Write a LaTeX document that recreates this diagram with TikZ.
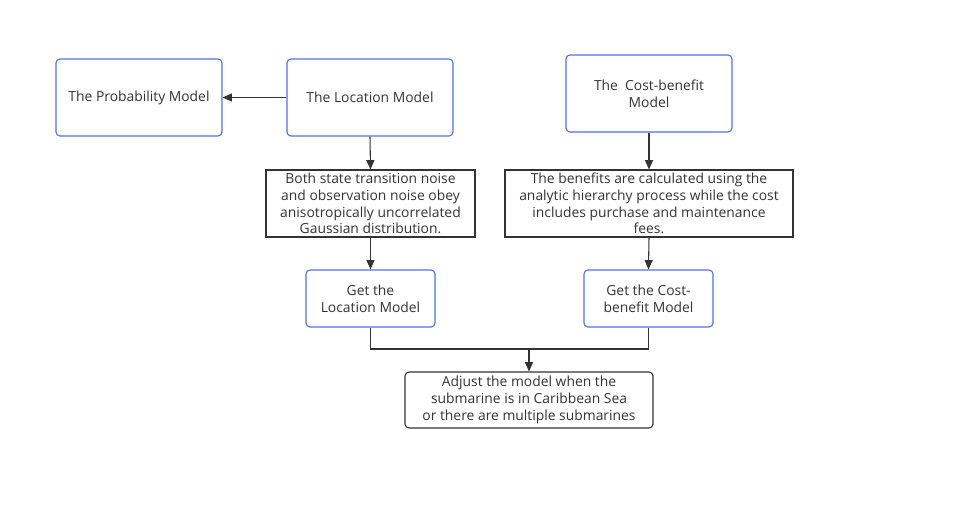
\documentclass[tikz,border=0pt]{standalone}
\usepackage{fontspec}
\setmainfont{Open Sans}
\usepackage{tikz}
\usetikzlibrary{arrows.meta, positioning}
\definecolor{frame}{RGB}{82, 112, 232}
\definecolor{ink}{RGB}{51, 51, 51}

\begin{document}
\begin{tikzpicture}[x=0.75pt, y=-0.75pt,
  model/.style={draw=frame, rounded corners=3pt, line width=0.85pt, text=ink,
    align=center, inner sep=0pt, font=\fontsize{10.4}{12.6}\selectfont},
  note/.style={draw=ink, line width=0.8pt, text=ink, align=center,
    inner sep=0pt, font=\fontsize{10.4}{12.6}\selectfont},
  link/.style={draw=ink, line width=0.8pt, -{Triangle[length=7pt, width=6pt]}}]

  \useasboundingbox (0, 0) rectangle (979, 518);

  % top row
  \node[model, minimum width=124.5pt, minimum height=57.75pt] (prob) at (139, 97.5)
    {The Probability Model};
  \node[model, minimum width=124.5pt, minimum height=57.75pt] (loc) at (370, 97.5)
    {The Location Model};
  \node[model, minimum width=124.5pt, minimum height=57.75pt] (cost) at (649, 93.5)
    {The\ \ Cost-benefit\\Model};

  % assumptions
  \node[note, minimum width=156.75pt, minimum height=50.25pt] (noise) at (370.5, 203.5)
    {Both state transition noise\\and observation noise obey\\anisotropically uncorrelated\\Gaussian distribution.};
  \node[note, minimum width=216pt, minimum height=50.25pt] (benefit) at (649, 203.5)
    {The benefits are calculated using the\\analytic hierarchy process while the cost\\includes purchase and maintenance\\fees.};

  % results
  \node[model, minimum width=96.75pt, minimum height=42.75pt] (getloc) at (370.5, 298.5)
    {Get the\\Location Model};
  \node[model, minimum width=96.75pt, minimum height=42.75pt] (getcost) at (648.5, 298.5)
    {Get the Cost-\\benefit Model};

  \node[note, rounded corners=3pt, minimum width=186pt, minimum height=42pt] (adjust) at (529, 400)
    {Adjust the model when the\\submarine is in Caribbean Sea\\or there are multiple submarines};

  \coordinate (merge) at (529, 349);

  \draw[link] (loc.west) -- (prob.east);
  \draw[link] (loc.south) -- (noise.north);
  \draw[link] (cost.south) -- (benefit.north);
  \draw[link] (noise.south) -- (getloc.north);
  \draw[link] (benefit.south) -- (getcost.north);
  \draw[ink, line width=0.8pt] (getloc.south) |- (merge);
  \draw[ink, line width=0.8pt] (getcost.south) |- (merge);
  \draw[link] (merge) -- (adjust.north);

\end{tikzpicture}
\end{document}
